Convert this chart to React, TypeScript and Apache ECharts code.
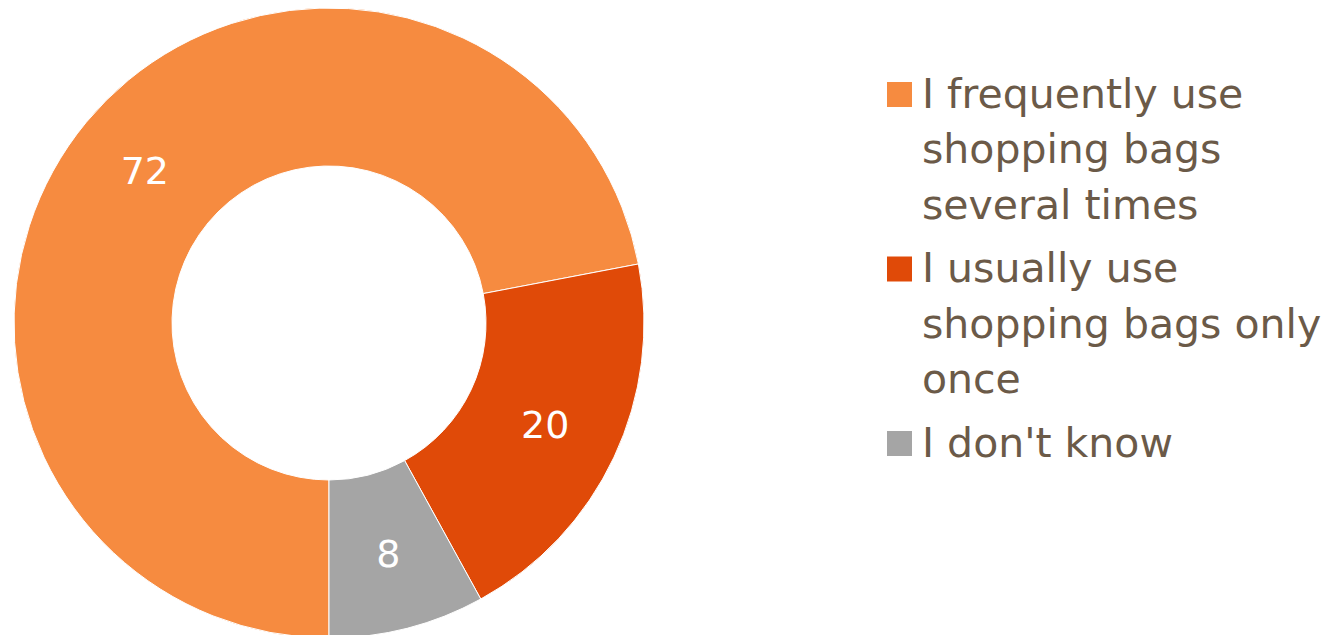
import React, { useEffect, useRef } from "react";
import * as echarts from "echarts";

const categories = [
  "I frequently use shopping bags several times",
  "I usually use shopping bags only once",
  "I don't know",
];
const values = [72, 20, 8];
const colors = ["#F68B40", "#E04A08", "#A5A5A5"];
const legendLines = [
  ["I frequently use", "shopping bags", "several times"],
  ["I usually use", "shopping bags only", "once"],
  ["I don't know"],
];

const FONT = "'DejaVu Sans', sans-serif";
const TEXT_COLOR = "#6B5A48";

export default function App() {
  const ref = useRef<HTMLDivElement>(null);
  useEffect(() => {
    if (!ref.current) return;
    const chart = echarts.init(ref.current, undefined, { renderer: "svg" });

    const lineH = 55.5;
    const itemGap = 8;
    const legendX = 887;
    const textX = 922;
    let top = 72;
    const graphics: any[] = [];
    legendLines.forEach((lines, i) => {
      graphics.push({
        type: "rect",
        shape: { x: legendX, y: top + 10, width: 25, height: 25 },
        style: { fill: colors[i] },
      });
      graphics.push({
        type: "text",
        x: textX,
        y: top - 6,
        style: {
          text: lines.join("\n"),
          font: `41px ${FONT}`,
          fill: TEXT_COLOR,
          lineHeight: lineH,
          verticalAlign: "top",
          align: "left",
        },
      });
      top += lines.length * lineH + itemGap;
    });

    chart.setOption({
      animation: false,
      graphic: graphics,
      series: [
        {
          type: "pie",
          center: [329, 323],
          radius: [157, 315],
          startAngle: 270,
          clockwise: true,
          avoidLabelOverlap: false,
          itemStyle: { borderColor: "#ffffff", borderWidth: 1 },
          label: {
            show: true,
            position: "inside",
            formatter: "{c}",
            color: "#ffffff",
            fontSize: 38,
            fontFamily: FONT,
          },
          labelLine: { show: false },
          emphasis: { disabled: true },
          data: categories.map((name, i) => ({
            name,
            value: values[i],
            itemStyle: { color: colors[i] },
          })),
        },
      ],
    });
    return () => chart.dispose();
  }, []);
  return (
    <div
      ref={ref}
      style={{ position: "fixed", left: 0, top: 0, width: 1330, height: 635, background: "#fff" }}
    />
  );
}
